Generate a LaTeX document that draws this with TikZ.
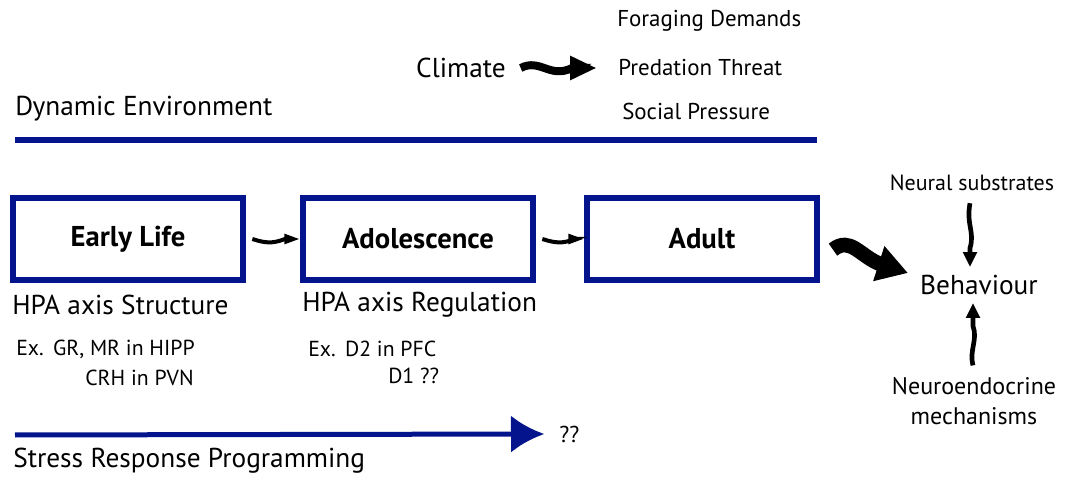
\documentclass[tikz,border=0pt]{standalone}
\usepackage{fontspec}
\setmainfont{PT Sans}
\usepackage{tikz}
\usetikzlibrary{arrows.meta}
\definecolor{navy}{RGB}{4,20,140}
\tikzstyle{stage} = [draw=navy, line width=4.5pt, rectangle, minimum height=62pt, minimum width=172pt, font=\fontsize{21.5}{24}\selectfont\bfseries]
\tikzstyle{big} = [font=\fontsize{20.5}{24}\selectfont, inner sep=0pt]
\tikzstyle{small} = [font=\fontsize{17.2}{20}\selectfont, inner sep=0pt]
\tikzstyle{example} = [font=\fontsize{16.3}{19}\selectfont, inner sep=0pt, anchor=west]
\tikzstyle{wave} = [line width=3pt, -{Triangle[length=12pt,width=7pt]}]
\tikzstyle{thin wave} = [line width=3.5pt, -{Triangle[length=11pt,width=10pt]}]

\begin{document}
\begin{tikzpicture}[x=0.75pt, y=-0.75pt]
  \useasboundingbox (0,0) rectangle (1068,477);

  % environment
  \node [big, anchor=west] (env) at (15,109) {Dynamic Environment};
  \coordinate (envL) at (15,140);
  \coordinate (envR) at (817,140);
  \draw [navy, line width=4.5pt] (envL) -- (envR);

  \node [big] (climate) at (461,68) {Climate};
  \node [small, anchor=west] (forage) at (617,21) {Foraging Demands};
  \node [small, anchor=west] (pred) at (618,68) {Predation Threat};
  \node [small, anchor=west] (social) at (622,111) {Social Pressure};
  \draw [line width=6pt, -{Triangle[length=20pt,width=17pt]}] ([xshift=11]climate.east) .. controls (540,58) and (550,79) .. (572,68) -- ([xshift=-16]pred.west);

  % stages
  \node [stage] (early) at (128,239) {Early Life};
  \node [stage] (adol) at (418,239) {Adolescence};
  \node [stage] (adult) at (702,239) {Adult};

  \draw [wave] ([xshift=5]early.east) .. controls (265,243) and (272,244) .. (285,239) -- (adol.west);
  \draw [wave] ([xshift=5]adol.east) .. controls (555,243) and (562,244) .. (575,239) -- (adult.west);

  % behaviour
  \node [big] (behav) at (979,285) {Behaviour};
  \node [small, font=\fontsize{16.5}{20}\selectfont] (neural) at (972,183) {Neural substrates};
  \node [small, font=\fontsize{18}{21}\selectfont, align=center] (neuro) at (974,401) {Neuroendocrine\\[1pt]mechanisms};

  \draw [line width=11pt, -{Triangle[length=23pt,width=26pt]}] ([xshift=10,yshift=-8]adult.east) .. controls (850,236) and (860,256) .. (880,264) -- ([xshift=-9,yshift=9]behav.west);
  \draw [thin wave] ([yshift=-9]neural.south -| 970,0) .. controls (966,225) and (975,232) .. (970,248) -- ([yshift=6]behav.north -| 970,0);
  \draw [thin wave] ([yshift=9]neuro.north -| 973,0) .. controls (969,350) and (978,340) .. (973,326) -- ([yshift=-6]behav.south -| 973,0);

  % hpa labels
  \node [big, anchor=west] (struct) at (12,305) {HPA axis Structure};
  \node [example] (ex1) at (16,349) {Ex.\hspace{7pt}GR, MR in HIPP};
  \node [example] (ex1b) at (85,378) {CRH in PVN};
  \node [big, anchor=west] (regul) at (302,305) {HPA axis Regulation};
  \node [example] (ex2) at (308,349) {Ex.\hspace{7pt}D2 in PFC};
  \node [example] (ex2b) at (388,376) {D1 ??};

  % programming
  \node [small, anchor=west] (qq) at (559,434) {??};
  \coordinate (progL) at (15,435);
  \draw [navy, line width=3.75pt, -{Latex[length=25pt,width=28pt]}] (progL) -- ([xshift=-11]qq.west);
  \node [big, anchor=west] (prog) at (13,461) {Stress Response Programming};
\end{tikzpicture}
\end{document}
